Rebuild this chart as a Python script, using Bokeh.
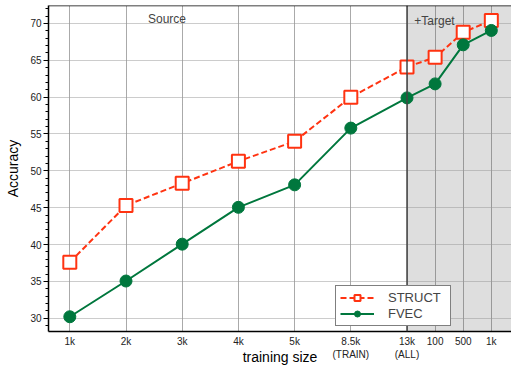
from bokeh.plotting import figure
from bokeh.models import (FixedTicker, Span, BoxAnnotation, Label, Legend, LegendItem,
                          ColumnDataSource, Range1d)
from bokeh.embed import file_html
from bokeh.resources import INLINE

# ---- data ----
source_sizes = ["1k", "2k", "3k", "4k", "5k", "8.5k", "13k"]
target_sizes = ["100", "500", "1k"]
struct_acc = [37.6, 45.3, 48.3, 51.3, 54.0, 60.0, 64.1, 65.4, 68.8, 70.4]
fvec_acc = [30.2, 35.05, 40.05, 45.05, 48.1, 55.8, 59.9, 61.8, 67.1, 69.05]
subnotes = {"8.5k": "(TRAIN)", "13k": "(ALL)"}
y_ticks = [30, 35, 40, 45, 50, 55, 60, 65, 70]

# x positions: source sizes evenly spaced, target additions at half spacing
n_src = len(source_sizes)
x_pos = [float(i) for i in range(n_src)] + [n_src - 1 + 0.5 * (j + 1) for j in range(len(target_sizes))]
tick_labels = [s + ("\n" + subnotes[s] if s in subnotes else "") for s in source_sizes] + target_sizes
boundary = float(n_src - 1)

FONT = "Liberation Sans"
RED = "#ff3311"
GREEN = "#00773d"
Y_END = 72.435

p = figure(width=511, height=367, output_backend="svg", toolbar_location=None,
           x_range=Range1d(-0.379, 7.859), y_range=Range1d(28.20, Y_END),
           min_border_left=48, min_border_top=5, min_border_right=0, min_border_bottom=35)
p.outline_line_color = None

# shaded target region (underneath grid)
box = BoxAnnotation(left=boundary, fill_color="#dedede", fill_alpha=1.0,
                    line_alpha=0, level="underlay")
p.center = [box] + list(p.center)

p.add_layout(Span(location=boundary, dimension="height", line_color="#444444", line_width=1.5))
p.add_layout(Span(location=Y_END, dimension="width", line_color="black", line_width=1.5))

# axes
p.xaxis.ticker = FixedTicker(ticks=x_pos)
p.xaxis.major_label_overrides = {x: t for x, t in zip(x_pos, tick_labels)}
p.xaxis.major_tick_out = 0
p.xaxis.major_tick_in = 0
p.xaxis.minor_tick_out = 0
p.xaxis.major_label_standoff = 4
p.xaxis.axis_label = "training size"
p.xaxis.axis_label_standoff = -14
p.xaxis.axis_label_text_font = FONT
p.xaxis.axis_label_text_font_size = "14px"
p.xaxis.axis_label_text_font_style = "normal"
p.yaxis.ticker = FixedTicker(ticks=y_ticks, minor_ticks=list(range(29, 73)))
p.yaxis.major_tick_out = 5
p.yaxis.major_tick_in = 0
p.yaxis.minor_tick_out = 3
p.yaxis.minor_tick_in = 0
p.yaxis.major_label_standoff = 2
p.yaxis.axis_label = "Accuracy"
p.yaxis.axis_label_standoff = 6
p.yaxis.axis_label_text_font = FONT
p.yaxis.axis_label_text_font_size = "14px"
p.yaxis.axis_label_text_font_style = "normal"
for ax in (p.xaxis, p.yaxis):
    ax.axis_line_color = "black"
    ax.axis_line_width = 1.5
    ax.major_tick_line_color = "black"
    ax.minor_tick_line_color = "black"
    ax.major_label_text_font = FONT
    ax.major_label_text_font_size = "10px"
    ax.major_label_text_color = "#222222"
    ax.axis_label_text_color = "black"

# grid
p.xgrid.ticker = FixedTicker(ticks=x_pos)
p.xgrid.grid_line_color = "#555555"
p.xgrid.grid_line_dash = "1 1"
p.ygrid.grid_line_color = "#999999"
p.ygrid.grid_line_dash = "1 1"

src = ColumnDataSource(dict(x=x_pos, s=struct_acc, f=fvec_acc))
l1 = p.line("x", "s", source=src, line_color=RED, line_width=2, line_dash="6 3")
m1 = p.scatter("x", "s", source=src, marker="square", size=13, fill_color="white",
               line_color=RED, line_width=2)
l2 = p.line("x", "f", source=src, line_color=GREEN, line_width=2)
m2 = p.scatter("x", "f", source=src, marker="circle", size=12, fill_color=GREEN,
               line_color=GREEN)

legend = Legend(items=[LegendItem(label="STRUCT", renderers=[l1, m1]),
                       LegendItem(label="FVEC", renderers=[l2, m2])],
                location=(287, 5), padding=4, spacing=1, glyph_width=34, glyph_height=15,
                label_height=15, label_standoff=14, label_width=58,
                label_text_font=FONT, label_text_font_size="13px",
                border_line_color="black", border_line_width=1.2,
                background_fill_color="white", background_fill_alpha=1.0, margin=0)
p.add_layout(legend)

p.add_layout(Label(x=1.73, y=70.54, text="Source", text_font=FONT, text_font_size="12px",
                   text_align="center", text_baseline="middle"))
p.add_layout(Label(x=6.13, y=70.27, text="+Target", text_font=FONT, text_font_size="12px",
                   text_align="left", text_baseline="middle"))

open("out.html", "w").write(file_html(p, INLINE))
